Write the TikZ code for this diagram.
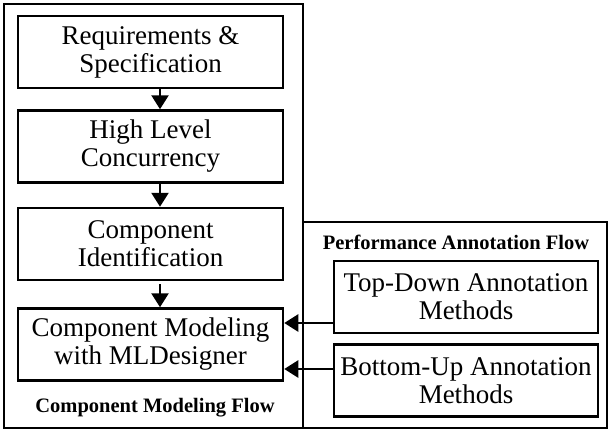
\documentclass[tikz,border=0pt]{standalone}
\usepackage{fontspec}
\setmainfont{Liberation Serif}
\usetikzlibrary{arrows.meta}
\begin{document}
\begin{tikzpicture}[x=1pt,y=-1pt,
  stepbox/.style={draw,line width=2.5pt,minimum width=265pt,minimum height=72pt,align=center,
    font=\fontsize{27}{28}\selectfont,inner sep=0pt},
  annbox/.style={draw,line width=2.5pt,minimum width=264pt,minimum height=72pt,align=center,
    font=\fontsize{27}{28}\selectfont,inner sep=0pt},
  frame/.style={draw,line width=2.5pt},
  flowlabel/.style={font=\fontsize{20.5}{22}\bfseries\selectfont},
  arr/.style={line width=2.5pt,-{Triangle[width=17pt,length=14pt]}}]
\useasboundingbox (0,0) rectangle (610,431);
\draw[frame] (4,4) rectangle (303,428);
\draw[frame] (303,222) rectangle (607,428);
\node[stepbox] (req) at (150.5,52) {Requirements \&\\Specification};
\node[stepbox] (hlc) at (150.5,146.5) {High Level\\Concurrency};
\node[stepbox] (cid) at (150.5,244) {Component\\Identification};
\node[stepbox] (cmod) at (150.5,344.5) {Component Modeling\\with MLDesigner};
\node[flowlabel] (cmf) at (155,408) {Component Modeling Flow};
\node[flowlabel] (paf) at (456,242) {Performance Annotation Flow};
\node[annbox] (td) at (466,297) {Top-Down Annotation\\Methods};
\node[annbox] (bu) at (466,380.5) {Bottom-Up Annotation\\Methods};
\draw[arr] (req.south -| 160,0) -- (hlc.north -| 160,0);
\draw[arr] (hlc.south -| 160,0) -- (cid.north -| 160,0);
\draw[arr] ([yshift=-3pt]cid.south -| 160,0) -- (cmod.north -| 160,0);
\draw[arr] (td.west |- 0,323) -- (cmod.east |- 0,323);
\draw[arr] (bu.west |- 0,369) -- (cmod.east |- 0,369);
\end{tikzpicture}
\end{document}
